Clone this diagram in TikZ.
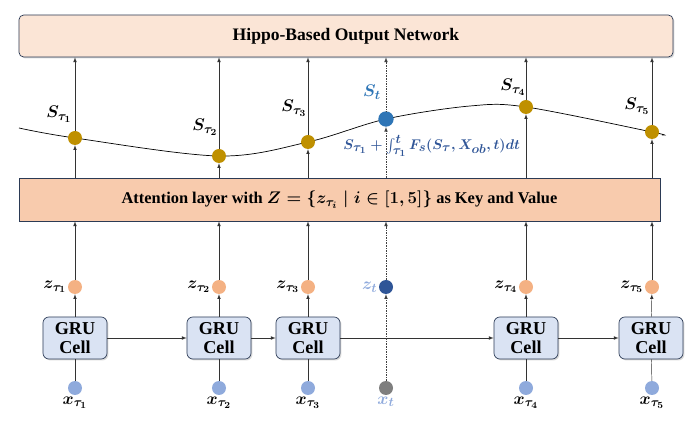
\documentclass[tikz,border=0pt]{standalone}
\usepackage{fontspec}
\setmainfont{Liberation Serif}
\usepackage{amsmath}
\usetikzlibrary{shadows}

\DeclareMathSizes{13}{13}{10.5}{8}
\DeclareMathSizes{14}{14}{11}{8.5}

\definecolor{outfill}{HTML}{FBE5D6}
\definecolor{attfill}{HTML}{F8CBAD}
\definecolor{grufill}{HTML}{DAE3F3}
\definecolor{boxline}{HTML}{2B3A55}
\definecolor{gold}{HTML}{BF9000}
\definecolor{stblue}{HTML}{2E75B6}
\definecolor{formblue}{HTML}{2F5597}
\definecolor{zorange}{HTML}{F4B183}
\definecolor{ztblue}{HTML}{2F5597}
\definecolor{xblue}{HTML}{8FAADC}
\definecolor{xgray}{HTML}{7F7F7F}

\begin{document}
\begin{tikzpicture}[> = latex, x = 0.03cm, y = -0.03cm,
	box/.style = {draw = boxline, semithick, inner sep = 0pt, align = center,
		font = \bfseries\fontsize{14}{16}\selectfont\boldmath,
		drop shadow = {opacity = 0.3, shadow xshift = 1.2pt, shadow yshift = -1.2pt}},
	gru/.style = {box, rounded corners = 5pt, fill = grufill, minimum width = 1.92cm, minimum height = 1.26cm,
		font = \bfseries\fontsize{15.5}{16.5}\selectfont},
	dot/.style = {circle, inner sep = 0pt, minimum size = 0.42cm},
	lab/.style = {font = \fontsize{14}{16}\selectfont\boldmath, inner sep = 1pt},
	link/.style = {->, draw = black!80},
	guess/.style = {->, densely dotted, draw = black!75}]

	\useasboundingbox (0, 0) rectangle (690, 427);

	% Output and attention layers

	\node [box, rounded corners = 4pt, fill = outfill, minimum width = 19.62cm, minimum height = 1.26cm,
		font = \bfseries\fontsize{15}{16}\selectfont] (out) at (346, 36) {Hippo-Based Output Network};
	\node [box, fill = attfill, minimum width = 19.23cm, minimum height = 1.29cm] (att) at (339.5, 199.5) {Attention layer with $Z = \{z_{\tau_i} \mid i \in [1, 5]\}$ as Key and Value};

	% Hidden state curve

	\draw [semithick] plot [smooth, tension = 0.55] coordinates {(19, 128) (75, 138) (219, 156) (308, 142) (386, 119) (470, 106) (526, 107) (652, 132) (662, 135)};

	\node [dot, fill = gold] (s1) at (75, 138) {};
	\node [dot, fill = gold] (s2) at (219, 156) {};
	\node [dot, fill = gold] (s3) at (308, 142) {};
	\node [dot, fill = stblue, minimum size = 0.46cm] (st) at (386, 119) {};
	\node [dot, fill = gold] (s4) at (526, 107) {};
	\node [dot, fill = gold] (s5) at (652, 132) {};

	\node [lab] (ls1) at (59, 114) {$S_{\tau_1}$};
	\node [lab] (ls2) at (205, 127) {$S_{\tau_2}$};
	\node [lab] (ls3) at (294, 108) {$S_{\tau_3}$};
	\node [lab, text = stblue] (lst) at (372, 92) {$S_t$};
	\node [lab] (ls4) at (513, 87) {$S_{\tau_4}$};
	\node [lab] (ls5) at (637, 106) {$S_{\tau_5}$};
	\node [lab, text = formblue, anchor = west, font = \fontsize{13}{15}\selectfont\boldmath] (lf) at (342, 146) {$S_{\tau_1} + \int_{\tau_1}^{t} F_s(S_\tau, X_{ob}, t)dt$};

	% GRU cells

	\node [gru] (g1) at (75, 338) {GRU\\Cell};
	\node [gru] (g2) at (219, 338) {GRU\\Cell};
	\node [gru] (g3) at (308, 338) {GRU\\Cell};
	\node [gru] (g4) at (526, 338) {GRU\\Cell};
	\node [gru] (g5) at (651, 338) {GRU\\Cell};

	% Latent points

	\node [dot, fill = zorange, label = {[lab]left:$z_{\tau_1}$}] (z1) at (75, 287) {};
	\node [dot, fill = zorange, label = {[lab]left:$z_{\tau_2}$}] (z2) at (219, 287) {};
	\node [dot, fill = zorange, label = {[lab]left:$z_{\tau_3}$}] (z3) at (308, 287) {};
	\node [dot, fill = ztblue, label = {[lab, text = xblue]left:$z_t$}] (zt) at (386, 287) {};
	\node [dot, fill = zorange, label = {[lab]left:$z_{\tau_4}$}] (z4) at (526, 287) {};
	\node [dot, fill = zorange, label = {[lab]left:$z_{\tau_5}$}] (z5) at (652, 287) {};

	% Observations

	\node [dot, fill = xblue, label = {[lab]below:$x_{\tau_1}$}] (x1) at (75, 388) {};
	\node [dot, fill = xblue, label = {[lab]below:$x_{\tau_2}$}] (x2) at (219, 388) {};
	\node [dot, fill = xblue, label = {[lab]below:$x_{\tau_3}$}] (x3) at (308, 388) {};
	\node [dot, fill = xgray, label = {[lab, text = xblue]below:$x_t$}] (xt) at (386, 388) {};
	\node [dot, fill = xblue, label = {[lab]below:$x_{\tau_4}$}] (x4) at (526, 388) {};
	\node [dot, fill = xblue, label = {[lab]below:$x_{\tau_5}$}] (x5) at (652, 388) {};

	% Connections

	\draw [link] (g1) -- (g2);
	\draw [link] (g2) -- (g3);
	\draw [link] (g3) -- (g4);
	\draw [link] (g4) -- (g5);

	\draw [draw = black!80] (x1) -- (g1);
	\draw [draw = black!80] (x2) -- (g2);
	\draw [draw = black!80] (x3) -- (g3);
	\draw [draw = black!80] (x4) -- (g4);
	\draw [draw = black!80] (x5) -- (g5);

	\draw [link] (g1) -- (z1);
	\draw [link] (g2) -- (z2);
	\draw [link] (g3) -- (z3);
	\draw [link] (g4) -- (z4);
	\draw [link] (g5) -- (z5);

	\draw [link] (z1) -- (att.south -| z1);
	\draw [link] (z2) -- (att.south -| z2);
	\draw [link] (z3) -- (att.south -| z3);
	\draw [link] (z4) -- (att.south -| z4);
	\draw [link] (z5) -- (att.south -| z5);

	\draw [link] (att.north -| s1) -- (s1);
	\draw [link] (att.north -| s2) -- (s2);
	\draw [link] (att.north -| s3) -- (s3);
	\draw [link] (att.north -| s4) -- (s4);
	\draw [link] (att.north -| s5) -- (s5);

	\draw [link] (s1) -- (out.south -| s1);
	\draw [link] (s2) -- (out.south -| s2);
	\draw [link] (s3) -- (out.south -| s3);
	\draw [link] (s4) -- (out.south -| s4);
	\draw [link] (s5) -- (out.south -| s5);

	% Query time t

	\draw [guess] (xt) -- (zt);
	\draw [guess] (zt) -- (att.south -| zt);
	\draw [guess] (att.north -| st) -- (st);
	\draw [guess] (st) -- (out.south -| st);

\end{tikzpicture}
\end{document}
